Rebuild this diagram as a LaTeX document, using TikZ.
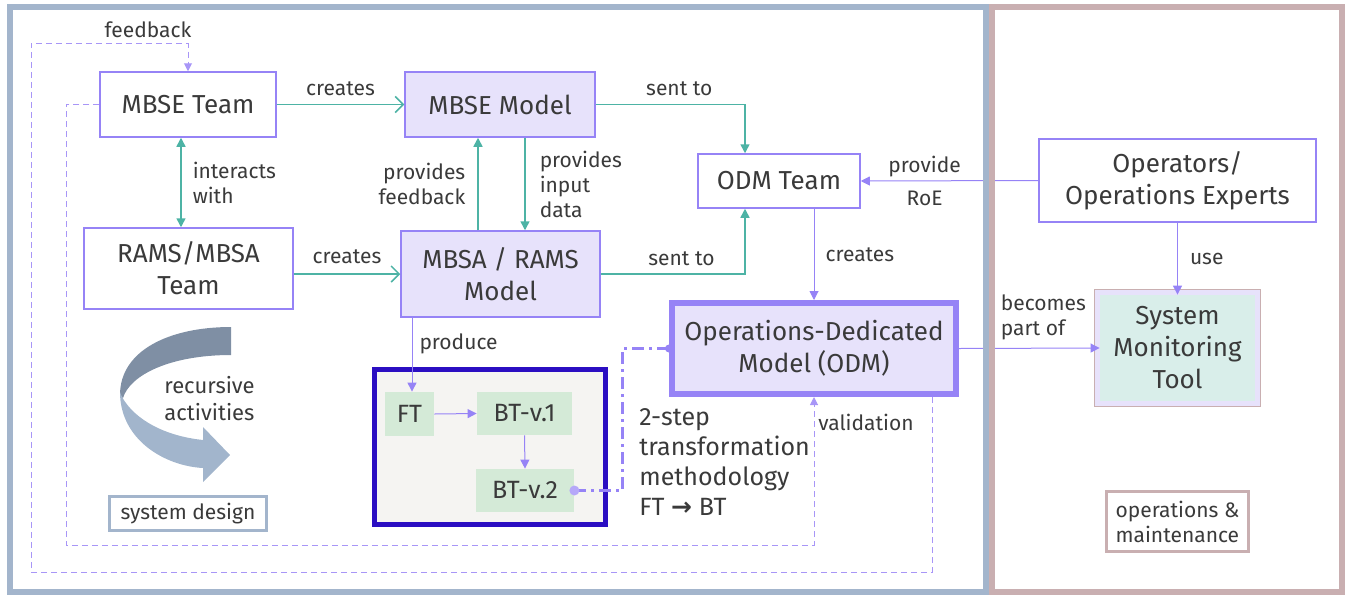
\documentclass[tikz,border=0pt]{standalone}
\usepackage{fontspec}
\setmainfont{Fira Sans}
\newfontfamily\arrowfont{DejaVu Sans}
\usepackage{tikz}
\usetikzlibrary{arrows.meta,positioning}

\definecolor{frameblue}{HTML}{A3B5CC}
\definecolor{framerose}{HTML}{C9AFB1}
\definecolor{lila}{HTML}{9683F6}
\definecolor{lilafill}{HTML}{E7E2FB}
\definecolor{lilaloop}{HTML}{A896F7}
\definecolor{tealline}{HTML}{4DB3A5}
\definecolor{deepblue}{HTML}{2B0EC2}
\definecolor{greybox}{HTML}{F5F4F2}
\definecolor{greenbox}{HTML}{D4EAD7}
\definecolor{mintbox}{HTML}{D9EEEA}
\definecolor{arrowdark}{HTML}{7F8FA4}
\definecolor{arrowlight}{HTML}{A2B5CC}
\definecolor{txt}{HTML}{3A3A3A}

\begin{document}
\begin{tikzpicture}[x=0.5pt,y=-0.5pt,
  every node/.style={text=txt},
  team/.style={draw=lila, line width=0.75pt, fill=white, align=center, inner sep=0pt, font=\fontsize{13}{16}\selectfont},
  model/.style={team, fill=lilafill},
  tree/.style={fill=greenbox, inner sep=0pt, font=\fontsize{12.5}{15}\selectfont},
  lbl/.style={inner sep=0pt, align=left, font=\fontsize{10.5}{12.5}\selectfont},
  tealarrow/.style={tealline, line width=0.75pt, -{Triangle[length=4.5pt,width=4.5pt]}},
  tealopen/.style={tealline, line width=0.75pt, -{Straight Barb[length=4pt,width=8pt]}},
  lilaarrow/.style={lila, line width=0.5pt, -{Triangle[length=4.5pt,width=4.5pt]}},
  loopline/.style={draw=lilaloop, line width=0.5pt, dash pattern=on 3pt off 2pt},
  twostep/.style={draw=lila, line width=1.5pt, dash pattern=on 6pt off 2.5pt on 1.5pt off 2.5pt},
] 
\useasboundingbox (0,0) rectangle (1349,595);

% system design side
\node[team, minimum width=88pt, minimum height=32.5pt] (mbse_team) at (188,104.5) {MBSE Team};
\node[model, minimum width=95pt, minimum height=32.5pt] (mbse_model) at (500,104.5) {MBSE Model};
\node[team, minimum width=104.5pt, minimum height=40.5pt] (rams_team) at (188.5,268.5) {RAMS/MBSA\\Team};
\node[model, minimum width=99.5pt, minimum height=43pt] (mbsa_model) at (500.5,274) {MBSA / RAMS\\Model};
\node[team, minimum width=81pt, minimum height=27pt] (odm_team) at (779,181) {ODM Team};
\node[model, line width=3pt, minimum width=142pt, minimum height=45.5pt] (odm) at (814,348.5) {Operations-Dedicated\\Model (ODM)};

\node[draw=deepblue, line width=2.5pt, fill=greybox, minimum width=115.5pt, minimum height=77.5pt] (tree_box) at (490,447) {};
\node[tree, minimum width=24.5pt, minimum height=22pt] (ft) at (409.5,414) {FT};
\node[tree, minimum width=47.5pt, minimum height=21.5pt] (bt_1) at (524.5,413.5) {BT-v.1};
\node[tree, minimum width=49pt, minimum height=21.5pt] (bt_2) at (525,490.5) {BT-v.2};
\node[lbl, anchor=north west, font=\fontsize{12.5}{15}\selectfont] (two_step) at (639,408) {2-step\\transformation\\methodology\\FT {\arrowfont\bfseries →} BT};

\fill[arrowdark] (231,327) .. controls (170,327) and (120,350) .. (120,395) -- (123,398) .. controls (130,375) and (170,355) .. (231,355) -- cycle;
\fill[arrowlight] (120,392) .. controls (120,440) and (165,466) .. (203,468) -- (203,482) -- (230,455) -- (203,427) -- (203,440) .. controls (165,436) and (135,420) .. (122,397) -- cycle;
\node[lbl, anchor=west, font=\fontsize{11}{13.5}\selectfont] (recursive) at (164,399) {recursive\\activities};
\node[draw=frameblue, line width=1.5pt, minimum width=78.5pt, minimum height=17pt, inner sep=0pt, font=\fontsize{10.5}{12.5}\selectfont] (sys_design) at (188,513.5) {system design};

% operations side
\node[team, minimum width=138.5pt, minimum height=41.5pt] (operators) at (1177.5,180.5) {Operators/\\Operations Experts};
\node[fill=mintbox, inner sep=0pt, align=center, minimum width=77.5pt, minimum height=53pt, font=\fontsize{13}{16}\selectfont] (smt) at (1177.5,348) {System\\Monitoring\\Tool};
\draw[lilafill, line width=2.5pt] ([shift={(-1.25pt,1.25pt)}]smt.north west) rectangle ([shift={(1.25pt,-1.25pt)}]smt.south east);
\draw[framerose, line width=0.75pt] ([shift={(-2.5pt,2.5pt)}]smt.north west) rectangle ([shift={(2.5pt,-2.5pt)}]smt.south east);
\node[draw=framerose, line width=1.5pt, minimum width=71pt, minimum height=30pt, inner sep=0pt, align=left, font=\fontsize{10.5}{12.5}\selectfont] (ops_maint) at (1177.5,521.5) {operations \&\\maintenance};

\path[tealopen]
(mbse_team.east) edge node[lbl, above=4pt] {creates} (mbse_model.west)
(rams_team.east |- mbsa_model.west) edge node[lbl, above=5pt] {creates} (mbsa_model.west)
; %end path

\path[tealarrow]
([xshift=-3.5pt]mbse_team.south) edge[{Triangle[length=4.5pt,width=4.5pt]}-{Triangle[length=4.5pt,width=4.5pt]}] node[lbl, right=5.5pt] {interacts\\with} ([xshift=-3.75pt]rams_team.north)
([xshift=-11.25pt]mbsa_model.north) edge node[lbl, left=6pt, align=right] {provides\\feedback} ([xshift=-11pt]mbse_model.south)
([xshift=12.5pt]mbse_model.south) edge node[lbl, right=7pt] {provides\\input\\data} ([xshift=12.25pt]mbsa_model.north)
; %end path
\draw[tealarrow] (mbse_model.east) -| node[lbl, pos=0.28, above=4pt] {sent to} ([xshift=-17pt]odm_team.north);
\draw[tealarrow] (mbsa_model.east) -| node[lbl, pos=0.28, above=4pt] {sent to} ([xshift=-17pt]odm_team.south);

\path[lilaarrow]
([xshift=17.5pt]odm_team.south) edge node[lbl, right=5.5pt] {creates} (odm.north)
(operators.west) edge node[lbl, pos=0.64, align=center] {provide\\[4pt]RoE} (odm_team.east)
(operators.south) edge node[lbl, right=6pt] {use} (smt.north)
(odm.east) edge node[lbl, pos=0.6, above=4pt] {becomes\\part of} (smt.west)
([xshift=-44.25pt]mbsa_model.south) edge node[lbl, pos=0.35, right=3.5pt] {produce} ([xshift=-44.25pt]mbsa_model.south |- ft.north)
(ft.east) edge (bt_1.west)
(bt_1.south) edge (bt_2.north)
; %end path

% 2-step link
\draw[twostep] (bt_2.east) -- ++(48,0) |- (odm.west);
\fill[lila!70] (bt_2.east) circle (2.5pt);
\fill[lila] (odm.west) circle (2pt);

% feedback loops
\coordinate (inner_corner) at (66,545);
\coordinate (outer_corner) at (31,572);
\draw[loopline, -{Triangle[length=4pt,width=4pt]}] (mbse_team.west) -| (inner_corner) -| (odm.south);
\node[lbl] (validation) at (866,422) {validation};
\draw[loopline, -{Triangle[length=4pt,width=4pt]}] ([xshift=59pt]odm.south) |- (outer_corner) |- ([yshift=14pt]mbse_team.north) -- (mbse_team.north);
\node[lbl] (feedback) at (148,30) {feedback};

% panels
\draw[frameblue, line width=3pt] (9.5,7) rectangle (985.5,592);
\draw[framerose, line width=3pt] (992,7) rectangle (1341.5,592);
\end{tikzpicture}
\end{document}
